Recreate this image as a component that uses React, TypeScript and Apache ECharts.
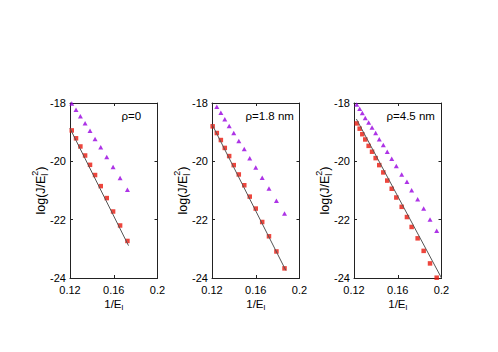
import React, { useEffect, useRef } from 'react';
import * as echarts from 'echarts';

// ---- data ----
const xTickMin = 0.12;
const xTickMax = 0.2;
const yTickMin = -24;
const yTickMax = -18;
const panelLabels = ['ρ=0', 'ρ=1.8 nm', 'ρ=4.5 nm'];

// panel 1 (ρ=0)
const x1 = [0.1216, 0.1255, 0.1295, 0.1338, 0.1383, 0.1429, 0.1481, 0.1536, 0.1594, 0.1658, 0.1725];
const purple1 = [-18.02, -18.23, -18.45, -18.69, -18.95, -19.23, -19.52, -19.85, -20.19, -20.57, -20.97];
const red1 = [-18.94, -19.21, -19.49, -19.8, -20.12, -20.47, -20.85, -21.26, -21.72, -22.2, -22.73];
const fitX1 = [0.12, 0.1735];
const fitY1 = [-18.87, -22.89];

// panel 2 (ρ=1.8 nm)
const x2 = [0.1206, 0.1244, 0.1281, 0.1317, 0.1357, 0.1399, 0.1445, 0.1495, 0.1545, 0.16, 0.1659, 0.1721, 0.1789, 0.1863];
const red2 = [-18.8, -19.03, -19.27, -19.54, -19.82, -20.13, -20.45, -20.82, -21.21, -21.62, -22.08, -22.57, -23.09, -23.67];
const purpleX2 = [0.1244, 0.1281, 0.1317, 0.1357, 0.1399, 0.1445, 0.1495, 0.1545, 0.16, 0.1659, 0.1721, 0.1789, 0.1863];
const purple2 = [-18.13, -18.33, -18.56, -18.79, -19.03, -19.3, -19.58, -19.89, -20.21, -20.56, -20.93, -21.35, -21.79];
const fitX2 = [0.12, 0.1875];
const fitY2 = [-18.73, -23.74];

// panel 3 (ρ=4.5 nm)
const x3 = [0.1225, 0.1252, 0.1276, 0.1303, 0.1334, 0.1365, 0.1398, 0.1431, 0.1468, 0.1504, 0.1545, 0.1587, 0.1636, 0.1684, 0.1727, 0.1782, 0.1837, 0.1895, 0.1956];
const red3 = [-18.7, -18.88, -19.07, -19.25, -19.47, -19.67, -19.89, -20.13, -20.38, -20.66, -20.94, -21.24, -21.56, -21.91, -22.25, -22.64, -23.07, -23.5, -23.99];
const purple3 = [-18.05, -18.2, -18.34, -18.51, -18.67, -18.84, -19.03, -19.24, -19.44, -19.67, -19.91, -20.16, -20.45, -20.7, -20.99, -21.3, -21.62, -21.99, -22.38];
const fitX3 = [0.1222, 0.2];
const fitY3 = [-18.55, -24.0];

const FONT = '"Liberation Sans", Arial, Helvetica, sans-serif';
const PURPLE = '#9900e0';
const RED = '#e8180c';
const AXIS = '#222';

const zip = (a: number[], b: number[]) => a.map((v, i) => [v, b[i]]);

function measure(text: string, size: number): number {
  const c = document.createElement('canvas').getContext('2d');
  if (!c) return text.length * size * 0.55;
  c.font = `${size}px "Liberation Sans", Arial, sans-serif`;
  return c.measureText(text).width;
}

export default function App() {
  const ref = useRef<HTMLDivElement>(null);
  useEffect(() => {
    document.body.style.margin = '0';
    const chart = echarts.init(ref.current!, null, { renderer: 'svg' });

    const lefts = [70, 212, 354];
    const W = 87.5;
    const TOP = 103;
    const H = 175;

    const panels = [
      { purpleX: x1, purple: purple1, redX: x1, red: red1, fx: fitX1, fy: fitY1, lx: 121.5 },
      { purpleX: purpleX2, purple: purple2, redX: x2, red: red2, fx: fitX2, fy: fitY2, lx: 245.5 },
      { purpleX: x3, purple: purple3, redX: x3, red: red3, fx: fitX3, fy: fitY3, lx: 386.5 },
    ];

    const grids: any[] = [];
    const xAxes: any[] = [];
    const yAxes: any[] = [];
    const series: any[] = [];
    const graphics: any[] = [];

    const mkX = (gi: number, pos: string) => ({
      type: 'value', gridIndex: gi, position: pos,
      min: xTickMin, max: xTickMax, interval: 0.04,
      axisLine: { show: true, onZero: false, lineStyle: { color: AXIS, width: 1 } },
      axisTick: { show: true, inside: true, length: 3, lineStyle: { color: AXIS } },
      axisLabel: {
        show: pos === 'bottom', margin: 6, fontSize: 11, color: '#000', fontFamily: FONT,
        formatter: (v: number) => String(Math.round(v * 100) / 100),
      },
      splitLine: { show: false },
    });
    const mkY = (gi: number, pos: string) => ({
      type: 'value', gridIndex: gi, position: pos,
      min: yTickMin, max: yTickMax, interval: 2,
      axisLine: { show: true, onZero: false, lineStyle: { color: AXIS, width: 1 } },
      axisTick: { show: true, inside: true, length: 3, lineStyle: { color: AXIS } },
      axisLabel: { show: pos === 'left', margin: 4, fontSize: 11, color: '#000', fontFamily: FONT },
      splitLine: { show: false },
    });

    // label geometry
    const YF = 12.5, yf = 9;
    const wMain = measure('log(J/E', YF);
    const wl = measure('l', yf);
    const w2 = measure('2', yf);
    const wP = measure(')', YF);
    const yTotal = wMain + Math.max(wl, w2) + wP;
    const XF = 11.5, xf = 8;
    const xMainW = measure('1/E', XF);
    const xSubW = measure('l', xf);
    const xTotal = xMainW + xSubW;

    panels.forEach((p, i) => {
      grids.push({ left: lefts[i], top: TOP, width: W, height: H });
      xAxes.push(mkX(i, 'bottom'), mkX(i, 'top'));
      yAxes.push(mkY(i, 'left'), mkY(i, 'right'));
      series.push(
        {
          type: 'scatter', xAxisIndex: 2 * i, yAxisIndex: 2 * i, data: zip(p.purpleX, p.purple),
          symbol: 'triangle', symbolSize: [5, 4.5], itemStyle: { color: PURPLE }, clip: false, silent: true,
        },
        {
          type: 'scatter', xAxisIndex: 2 * i, yAxisIndex: 2 * i, data: zip(p.redX, p.red),
          symbol: 'rect', symbolSize: 4.5, itemStyle: { color: RED }, clip: false, silent: true,
        },
        {
          type: 'line', xAxisIndex: 2 * i, yAxisIndex: 2 * i, data: zip(p.fx, p.fy),
          symbol: 'none', lineStyle: { color: '#555', width: 1 }, silent: true, z: 3,
        },
      );
      // rho label
      graphics.push({
        type: 'text', x: p.lx, y: 115.5,
        style: { text: panelLabels[i], fontSize: 11.5, fontFamily: FONT, fill: '#000', align: 'left', verticalAlign: 'middle' },
      });
      // y label (rotated)
      const x0 = -yTotal / 2;
      graphics.push({
        type: 'group', x: lefts[i] - 29, y: TOP + H / 2, rotation: Math.PI / 2,
        children: [
          { type: 'text', x: x0, y: 0, style: { text: 'log(J/E', fontSize: YF, fontFamily: FONT, fill: '#000', align: 'left', verticalAlign: 'middle' } },
          { type: 'text', x: x0 + wMain, y: YF * 0.32, style: { text: 'l', fontSize: yf, fontFamily: FONT, fill: '#000', align: 'left', verticalAlign: 'middle' } },
          { type: 'text', x: x0 + wMain, y: -YF * 0.5, style: { text: '2', fontSize: yf, fontFamily: FONT, fill: '#000', align: 'left', verticalAlign: 'middle' } },
          { type: 'text', x: x0 + wMain + Math.max(wl, w2), y: 0, style: { text: ')', fontSize: YF, fontFamily: FONT, fill: '#000', align: 'left', verticalAlign: 'middle' } },
        ],
      });
      // x title
      const cx = lefts[i] + W / 2;
      graphics.push({
        type: 'group', x: cx - xTotal / 2, y: 304,
        children: [
          { type: 'text', x: 0, y: 0, style: { text: '1/E', fontSize: XF, fontFamily: FONT, fill: '#000', align: 'left', verticalAlign: 'middle' } },
          { type: 'text', x: xMainW, y: XF * 0.3, style: { text: 'l', fontSize: xf, fontFamily: FONT, fill: '#000', align: 'left', verticalAlign: 'middle' } },
        ],
      });
    });

    chart.setOption({
      animation: false,
      backgroundColor: '#fff',
      grid: grids,
      xAxis: xAxes,
      yAxis: yAxes,
      series,
      graphic: graphics,
    });
    return () => chart.dispose();
  }, []);
  return <div ref={ref} style={{ width: 498, height: 352 }} />;
}
